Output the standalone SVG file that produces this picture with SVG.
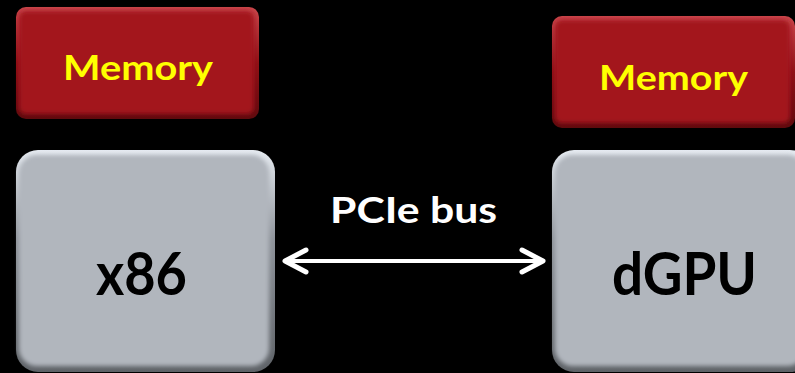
<svg xmlns="http://www.w3.org/2000/svg" width="795" height="373" viewBox="0 0 795 373">
  <defs>
    <style>
      .lbl { font-family: Lato, "Open Sans", "Liberation Sans", sans-serif; font-weight: 700; text-anchor: middle; }
      .mem-text { fill: #FFFF00; font-size: 35px; }
      .chip-text { fill: #000000; font-size: 59px; }
      .bus-text { fill: #FFFFFF; font-size: 36px; }
      .bus { stroke: #FFFFFF; stroke-width: 4; fill: none; }
    </style>
    <!-- edge shading for the bevelled boxes -->
    <linearGradient id="redEdge" x1="0" y1="0" x2="0" y2="1">
      <stop offset="0" stop-color="#C9474C"/>
      <stop offset="0.5" stop-color="#8E1217"/>
      <stop offset="1" stop-color="#5E0A0E"/>
    </linearGradient>
    <linearGradient id="grayEdge" x1="0" y1="0" x2="0" y2="1">
      <stop offset="0" stop-color="#E6EBF1"/>
      <stop offset="0.4" stop-color="#8F949B"/>
      <stop offset="1" stop-color="#5E6267"/>
    </linearGradient>
    <filter id="soft" x="-5%" y="-5%" width="110%" height="110%">
      <feGaussianBlur stdDeviation="2.2"/>
    </filter>
    <marker id="chev" markerUnits="userSpaceOnUse" viewBox="-30 -16 36 32" markerWidth="36" markerHeight="32" refX="0" refY="0" orient="auto-start-reverse" overflow="visible">
      <path d="M -21 -11 L 0 0 L -21 11" fill="none" stroke="#FFFFFF" stroke-width="5" stroke-linecap="round" stroke-linejoin="round"/>
    </marker>
  </defs>

  <rect width="795" height="373" fill="#000000"/>

  <!-- host memory -->
  <g id="mem-host">
    <rect x="16" y="7" width="243" height="112" rx="10" fill="url(#redEdge)"/>
    <rect x="19" y="11" width="235" height="103" rx="7" fill="#A3151C" filter="url(#soft)"/>
    <text class="lbl mem-text" x="138" y="80" textLength="150" lengthAdjust="spacingAndGlyphs">Memory</text>
  </g>

  <!-- device memory -->
  <g id="mem-gpu">
    <rect x="552" y="16" width="243" height="112" rx="10" fill="url(#redEdge)"/>
    <rect x="555" y="20" width="235" height="103" rx="7" fill="#A3151C" filter="url(#soft)"/>
    <text class="lbl mem-text" x="673.5" y="90" textLength="149" lengthAdjust="spacingAndGlyphs">Memory</text>
  </g>

  <!-- CPU -->
  <g id="cpu">
    <rect x="16" y="150" width="259" height="222" rx="22" fill="url(#grayEdge)"/>
    <rect x="19" y="155" width="250" height="211" rx="18" fill="#B1B6BD" filter="url(#soft)"/>
    <text class="lbl chip-text" x="141.5" y="295" textLength="91" lengthAdjust="spacingAndGlyphs">x86</text>
  </g>

  <!-- discrete GPU -->
  <g id="gpu">
    <rect x="552" y="150" width="260" height="222" rx="22" fill="url(#grayEdge)"/>
    <rect x="555" y="155" width="250" height="211" rx="18" fill="#B1B6BD" filter="url(#soft)"/>
    <text class="lbl chip-text" x="684.5" y="295" textLength="145" lengthAdjust="spacingAndGlyphs">dGPU</text>
  </g>

  <!-- bus between CPU and GPU -->
  <g id="connectors">
    <line class="bus" x1="285" y1="261" x2="543" y2="261" marker-start="url(#chev)" marker-end="url(#chev)"/>
    <text class="lbl bus-text" x="413.5" y="223" textLength="167" lengthAdjust="spacingAndGlyphs">PCIe bus</text>
  </g>
</svg>
